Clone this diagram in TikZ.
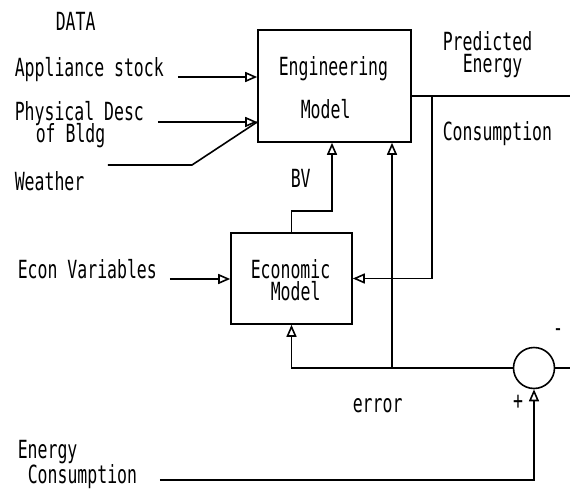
\documentclass[tikz,border=0pt]{standalone}
\usepackage{fontspec}
\setmainfont[FakeStretch=0.66]{DejaVu Sans Mono}
\usetikzlibrary{arrows.meta, positioning}
\newcommand\plotfont{\fontsize{12.5}{11}\selectfont\lineskiplimit=-20pt\relax}

\begin{document}
\begin{tikzpicture}[
  x=0.5pt, y=-0.5pt,
  line width=0.8pt,
  box/.style={draw, inner sep=0pt},
  lbl/.style={anchor=base west, inner sep=0pt, font=\plotfont},
  ml/.style={lbl, align=left},
  >={Triangle[open, length=6pt, width=5pt]}
]
\useasboundingbox (0,0) rectangle (570,489);

% blocks
\node[box, minimum width=76.5pt, minimum height=56pt] (eng) at (334.5,86) {};
\node[box, minimum width=60.5pt, minimum height=45.5pt] (econ) at (291.5,278.5) {};
\node[draw, circle, minimum size=20.5pt, inner sep=0pt] (sum) at (534,368) {};

% texts (multi-line ones sit on their last line)
\node[lbl] (data) at (55,30) {DATA};
\node[lbl] (appl) at (14,76) {Appliance stock};
\node[ml] (phys) at (14,142) {Physical Desc\\\hspace*{10.5pt}of Bldg};
\node[lbl] (weather) at (14,190) {Weather};
\node[ml] (englbl) at (278,118) {Engineering\\[10.5pt]\hspace*{11pt}Model};
\node[lbl] (bv) at (290,187) {BV};
\node[ml] (pred) at (442,72) {Predicted\\\hspace*{10pt}Energy};
\node[lbl] (cons) at (442,140) {Consumption};
\node[lbl] (vars) at (17,278) {Econ Variables};
\node[ml] (econlbl) at (250,300) {Economic\\\hspace*{10pt}Model};
\node[lbl] (err) at (352,412) {error};
\node[lbl, anchor=center] (plus) at (518,402) {+};
\node[lbl, anchor=center] (minus) at (558,333) {-};
\node[ml] (meas) at (17,483) {Energy\\[1.5pt]\hspace*{5pt}Consumption};

% inputs to the engineering model
\coordinate (applin) at (178,77);
\draw[->] (applin) -- (applin -| eng.west);
\coordinate (physin) at (158,122);
\draw[->] (physin) -- (physin -| eng.west);
\coordinate (weatherin) at (108,165);
\draw (weatherin) -- ++(84,0) -- (physin -| eng.west);
\draw[->] (econ.north) -- ++(0,-21) -| ([xshift=-1.25pt]eng.south);

% outputs and feedback
\coordinate (pout) at (570,96);
\draw (eng.east |- pout) -- (pout);
\coordinate (split) at (432,96);
\draw[->] (split) |- (econ.east);
\coordinate (varin) at (170,279);
\draw[->] (varin) -- (varin -| econ.west);
\draw[->] (sum.west) -| (econ.south);
\draw[->] ([xshift=28.75pt]eng.south |- sum.west) -- ([xshift=28.75pt]eng.south);
\coordinate (minusin) at (570,368);
\draw (sum.east) -- (minusin);
\coordinate (actin) at (160,480);
\draw[->] (actin) -| (sum.south);
\end{tikzpicture}
\end{document}
